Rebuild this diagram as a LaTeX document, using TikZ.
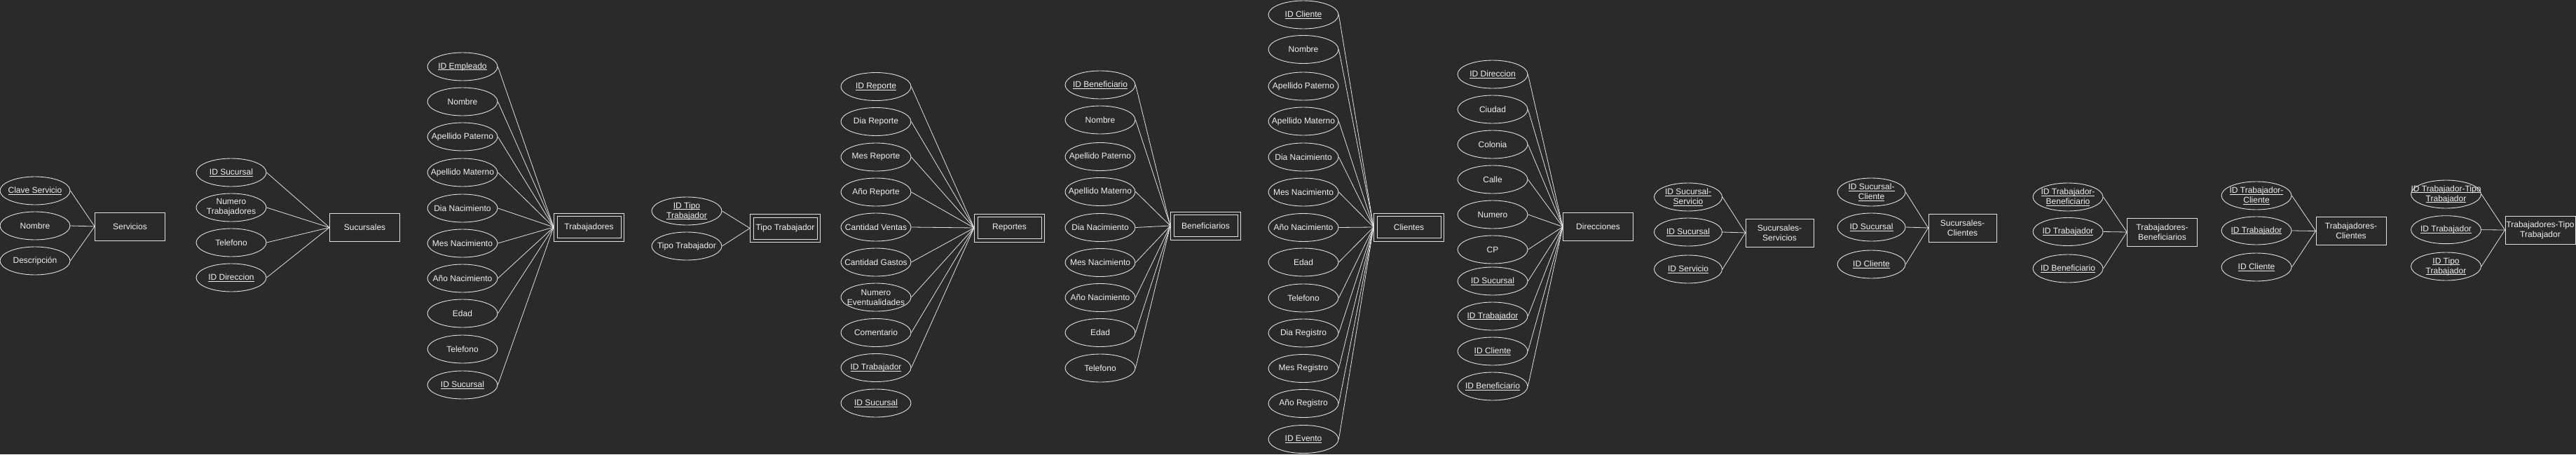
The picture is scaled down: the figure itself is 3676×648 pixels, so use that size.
\documentclass[tikz,border=0pt]{standalone}
\usepackage{fontspec}
\setmainfont{Liberation Sans}
\usetikzlibrary{shapes.geometric}
\definecolor{bg}{HTML}{2A2A2A}
\definecolor{fg}{HTML}{F0F0F0}
\definecolor{ln}{HTML}{E2E2E2}
\newcommand\ulk[1]{\setbox0\hbox{#1}\rlap{\rule[-2pt]{\wd0}{0.7pt}}\box0}
\tikzset{
  attrshape/.style={draw=ln, line width=0.9pt, ellipse, minimum width=100pt, minimum height=40pt, inner sep=0pt},
  entshape/.style={draw=ln, line width=0.9pt, rectangle, minimum width=100pt, minimum height=40pt, inner sep=0pt},
  txt/.style={text=fg, font=\fontsize{12}{14}\selectfont, align=center, inner sep=0pt},
  conn/.style={draw=ln, line width=0.8pt},
  inbox/.style={draw=ln, line width=0.9pt},
}
% attribute: [width]{name}{x}{y}{text}
\newcommand\mkattr[5][100]{%
  \node[attrshape, minimum width=#1pt] (#2) at (#3,#4) {};
  \node[txt] (#2t) at (#2.center) {#5};}
% entity: [width]{name}{x}{y}{text}
\newcommand\mkent[5][100]{%
  \node[entshape, minimum width=#1pt] (#2) at (#3,#4) {};
  \node[txt] (#2t) at (#2.center) {#5};}
\newcommand\mkwent[4]{%
  \mkent{#1}{#2}{#3}{#4}
  \draw[inbox] ([xshift=5pt,yshift=-5pt]#1.north west) rectangle ([xshift=-5pt,yshift=5pt]#1.south east);}
\begin{document}
\begin{tikzpicture}[x=1pt,y=-1pt]
\fill[bg] (0,0) rectangle (3676,648);
\useasboundingbox (0,0) rectangle (3676,648);

% Servicios
\mkattr{cs}{50}{272}{\ulk{Clave Servicio}}
\mkattr{sn}{50}{322}{Nombre}
\mkattr{sd}{50}{372}{Descripción}
\mkent{serv}{185.5}{323}{Servicios}
\foreach \a in {cs,sn,sd} \draw[conn] (\a.east) -- (serv.west);

% Sucursales
\mkattr{s1}{330}{246}{\ulk{ID Sucursal}}
\mkattr{s2}{330}{296}{Numero\\Trabajadores}
\mkattr{s3}{330}{346}{Telefono}
\mkattr{s4}{330}{396}{\ulk{ID Direccion}}
\mkent{suc}{520.5}{324.5}{Sucursales}
\foreach \a in {s1,s2,s3,s4} \draw[conn] (\a.east) -- (suc.west);

% Trabajadores
\mkattr{t1}{660}{95}{\ulk{ID Empleado}}
\mkattr{t2}{660}{145}{Nombre}
\mkattr{t3}{660}{195}{Apellido Paterno}
\mkattr{t4}{660}{246}{Apellido Materno}
\mkattr{t5}{660}{297}{Dia Nacimiento}
\mkattr{t6}{660}{347}{Mes Nacimiento}
\mkattr{t7}{660}{397}{Año Nacimiento}
\mkattr{t8}{660}{447}{Edad}
\mkattr{t9}{660}{498}{Telefono}
\mkattr{t10}{660}{549}{\ulk{ID Sucursal}}
\mkwent{trab}{840.5}{324}{Trabajadores}
\foreach \a in {t1,t2,t3,t4,t5,t6,t7,t8,t10} \draw[conn] (\a.east) -- (trab.west);

% Tipo Trabajador
\mkattr{p1}{980}{301}{\ulk{ID Tipo}\\\ulk{Trabajador}}
\mkattr{p2}{980}{351}{Tipo Trabajador}
\mkwent{tt}{1120.5}{325.5}{Tipo Trabajador}
\foreach \a in {p1,p2} \draw[conn] (\a.east) -- (tt.west);

% Reportes
\mkattr{r1}{1250}{123.5}{\ulk{ID Reporte}}
\mkattr{r2}{1250}{173.5}{Dia Reporte}
\mkattr{r3}{1250}{224}{Mes Reporte}
\mkattr{r4}{1250}{274}{Año Reporte}
\mkattr{r5}{1250}{324}{Cantidad Ventas}
\mkattr{r6}{1250}{374}{Cantidad Gastos}
\mkattr{r7}{1250}{424}{Numero\\Eventualidades}
\mkattr{r8}{1250}{474.5}{Comentario}
\mkattr{r9}{1250}{524.5}{\ulk{ID Trabajador}}
\mkattr{r10}{1250}{575}{\ulk{ID Sucursal}}
\mkwent{rep}{1440.5}{325}{Reportes}
\foreach \a in {r1,r2,r3,r4,r5,r6,r7,r8,r9} \draw[conn] (\a.east) -- (rep.west);

% Beneficiarios
\mkattr{b1}{1570}{121}{\ulk{ID Beneficiario}}
\mkattr{b2}{1570}{171}{Nombre}
\mkattr{b3}{1570}{223.5}{Apellido Paterno}
\mkattr{b4}{1570}{273.5}{Apellido Materno}
\mkattr{b5}{1570}{324.5}{Dia Nacimiento}
\mkattr{b6}{1570}{374.5}{Mes Nacimiento}
\mkattr{b7}{1570}{424.5}{Año Nacimiento}
\mkattr{b8}{1570}{474.5}{Edad}
\mkattr{b9}{1570}{525}{Telefono}
\mkwent{ben}{1720.5}{322}{Beneficiarios}
\foreach \a in {b1,b2,b4,b5,b6,b7,b8,b9} \draw[conn] (\a.east) -- (ben.west);

% Clientes
\mkattr{c1}{1860}{21}{\ulk{ID Cliente}}
\mkattr{c2}{1860}{70.5}{Nombre}
\mkattr{c3}{1860}{123}{Apellido Paterno}
\mkattr{c4}{1860}{173}{Apellido Materno}
\mkattr{c5}{1860}{224}{Dia Nacimiento}
\mkattr{c6}{1860}{274}{Mes Nacimiento}
\mkattr{c7}{1860}{324.5}{Año Nacimiento}
\mkattr{c8}{1860}{374}{Edad}
\mkattr{c9}{1860}{425}{Telefono}
\mkattr{c10}{1860}{475}{Dia Registro}
\mkattr{c11}{1860}{525.5}{Mes Registro}
\mkattr{c12}{1860}{575.5}{Año Registro}
\mkattr{c13}{1860}{626.5}{\ulk{ID Evento}}
\mkwent{cli}{2010.5}{324}{Clientes}
\foreach \a in {c1,c2,c4,c5,c6,c7,c8,c9,c10,c11,c12,c13} \draw[conn] (\a.east) -- (cli.west);

% Direcciones
\mkattr{d1}{2130}{106}{\ulk{ID Direccion}}
\mkattr{d2}{2130}{156}{Ciudad}
\mkattr{d3}{2130}{206}{Colonia}
\mkattr{d4}{2130}{256}{Calle}
\mkattr{d5}{2130}{306}{Numero}
\mkattr{d6}{2130}{356}{CP}
\mkattr{d7}{2130}{401}{\ulk{ID Sucursal}}
\mkattr{d8}{2130}{451}{\ulk{ID Trabajador}}
\mkattr{d9}{2130}{501}{\ulk{ID Cliente}}
\mkattr{d10}{2130}{551}{\ulk{ID Beneficiario}}
\mkent{dir}{2280.5}{323.5}{Direcciones}
\foreach \a in {d1,d2,d3,d4,d5,d6,d7,d8,d9,d10} \draw[conn] (\a.east) -- (dir.west);

% Sucursales-Servicios
\mkattr[97]{e1}{2409}{281}{\ulk{ID Sucursal-}\\\ulk{Servicio}}
\mkattr[97]{e2}{2409}{331}{\ulk{ID Sucursal}}
\mkattr[97]{e3}{2409}{384}{\ulk{ID Servicio}}
\mkent[97]{ss}{2539.5}{332}{Sucursales-\\Servicios}
\foreach \a in {e1,e2,e3} \draw[conn] (\a.east) -- (ss.west);

% Sucursales-Clientes
\mkattr[97]{f1}{2670.5}{274}{\ulk{ID Sucursal-}\\\ulk{Cliente}}
\mkattr[97]{f2}{2670.5}{324}{\ulk{ID Sucursal}}
\mkattr[97]{f3}{2670.5}{377}{\ulk{ID Cliente}}
\mkent[97]{sc}{2800.5}{325}{Sucursales-\\Clientes}
\foreach \a in {f1,f2,f3} \draw[conn] (\a.east) -- (sc.west);

% Trabajadores-Beneficiarios
\mkattr{g1}{2951}{281}{\ulk{ID Trabajador-}\\\ulk{Beneficiario}}
\mkattr{g2}{2951}{330.5}{\ulk{ID Trabajador}}
\mkattr{g3}{2951}{383}{\ulk{ID Beneficiario}}
\mkent{tb}{3085.5}{331}{Trabajadores-\\Beneficiarios}
\foreach \a in {g1,g2,g3} \draw[conn] (\a.east) -- (tb.west);

% Trabajadores-Clientes
\mkattr{h1}{3220}{279}{\ulk{ID Trabajador-}\\\ulk{Cliente}}
\mkattr{h2}{3220}{329}{\ulk{ID Trabajador}}
\mkattr{h3}{3220}{381}{\ulk{ID Cliente}}
\mkent{tc}{3355}{329.5}{Trabajadores-\\Clientes}
\foreach \a in {h1,h2,h3} \draw[conn] (\a.east) -- (tc.west);

% Trabajadores-Tipo Trabajador
\mkattr{k1}{3490.5}{277}{\ulk{ID Trabajador-Tipo}\\\ulk{Trabajador}}
\mkattr{k2}{3490.5}{327.7}{\ulk{ID Trabajador}}
\mkattr{k3}{3490.5}{380}{\ulk{ID Tipo}\\\ulk{Trabajador}}
\mkent{ttt}{3625}{328}{Trabajadores-Tipo\\Trabajador}
\foreach \a in {k1,k2,k3} \draw[conn] (\a.east) -- (ttt.west);
\end{tikzpicture}
\end{document}
